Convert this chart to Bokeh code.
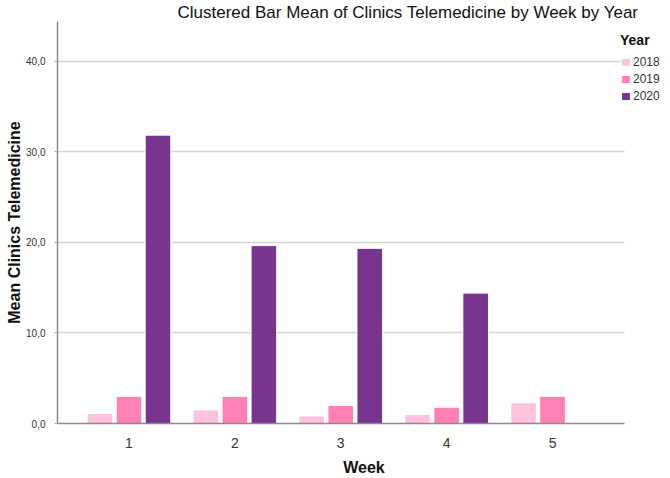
from bokeh.plotting import figure
from bokeh.models import (ColumnDataSource, FixedTicker, Legend, LegendItem, Range1d)
from bokeh.transform import dodge
from bokeh.embed import file_html
from bokeh.resources import INLINE

# ---- data ----
weeks = [1, 2, 3, 4, 5]
years = ["2018", "2019", "2020"]
mean_2018 = [1.1, 1.5, 0.85, 1.0, 2.3]
mean_2019 = [3.0, 3.0, 2.0, 1.8, 3.0]
mean_2020 = [31.85, 19.65, 19.35, 14.4, None]
y_ticks = [0, 10, 20, 30, 40]
y_tick_labels = ["0,0", "10,0", "20,0", "30,0", "40,0"]
x_tick_labels = ["1", "2", "3", "4", "5"]
colors = ["#FFC3DF", "#FF80B2", "#773590"]
title_text = "Clustered Bar Mean of Clinics Telemedicine by Week by Year"
x_title = "Week"
y_title = "Mean Clinics Telemedicine"
legend_title = "Year"

FONT = "Liberation Sans"
X_LO, X_HI = 0.325, 5.68          # visible extent of the x axis
X_FRAME_HI = 6.114                # frame extends under the legend

p = figure(width=670, height=478, output_backend="svg", toolbar_location=None,
           x_range=Range1d(X_LO, X_FRAME_HI), y_range=Range1d(0, 44.4),
           min_border_left=57, min_border_right=0, min_border_top=20,
           min_border_bottom=55)
p.outline_line_color = None
p.background_fill_color = "white"
p.border_fill_color = "white"

# title
p.title.text = title_text
p.title.align = "left"
p.title.offset = 120
p.title.standoff = 0
p.title.text_font = FONT
p.title.text_font_size = "17px"
p.title.text_font_style = "normal"
p.title.text_color = "#111111"

series = [mean_2018, mean_2019, mean_2020]
offsets = [-0.274, 0.0, 0.274]
renderers = []
for yr, vals, off, col in zip(years, series, offsets, colors):
    xs = [w for w, v in zip(weeks, vals) if v is not None]
    ys = [v for v in vals if v is not None]
    src = ColumnDataSource(dict(week=xs, val=ys))
    r = p.vbar(x=dodge("week", off), top="val", bottom=0, width=0.242, source=src,
               fill_color=col, line_color="white", line_width=1)
    renderers.append(r)

# x axis
p.xaxis.bounds = (X_LO, X_HI)
p.xaxis.ticker = FixedTicker(ticks=weeks)
p.xaxis.major_label_overrides = {w: t for w, t in zip(weeks, x_tick_labels)}
p.xaxis.major_tick_line_color = None
p.xaxis.minor_tick_line_color = None
p.xaxis.major_label_standoff = 8
p.xaxis.major_label_text_font = FONT
p.xaxis.major_label_text_font_size = "14px"
p.xaxis.major_label_text_color = "#333333"
p.xaxis.axis_line_color = "#8a8a8a"
p.xaxis.axis_line_width = 1.5
p.xaxis.axis_label = x_title
p.xaxis.axis_label_standoff = 8
p.xaxis.axis_label_text_font = FONT
p.xaxis.axis_label_text_font_size = "16px"
p.xaxis.axis_label_text_font_style = "bold"
p.xaxis.axis_label_text_color = "#111111"

# y axis
p.yaxis.ticker = FixedTicker(ticks=y_ticks)
p.yaxis.major_label_overrides = {t: s for t, s in zip(y_ticks, y_tick_labels)}
p.yaxis.major_tick_out = 3
p.yaxis.major_tick_in = 0
p.yaxis.major_tick_line_color = "#aaaaaa"
p.yaxis.minor_tick_line_color = None
p.yaxis.major_label_standoff = 9
p.yaxis.major_label_text_font = FONT
p.yaxis.major_label_text_font_size = "10px"
p.yaxis.major_label_text_color = "#333333"
p.yaxis.axis_line_color = "#8a8a8a"
p.yaxis.axis_line_width = 1.5
p.yaxis.axis_label = y_title
p.yaxis.axis_label_standoff = 0
p.yaxis.axis_label_text_font = FONT
p.yaxis.axis_label_text_font_size = "16px"
p.yaxis.axis_label_text_font_style = "bold"
p.yaxis.axis_label_text_color = "#111111"

p.xgrid.visible = False
p.ygrid.ticker = FixedTicker(ticks=y_ticks[1:])
p.ygrid.grid_line_color = "#d4d4d4"
p.ygrid.grid_line_width = 1.5
try:
    p.ygrid.cross_bounds = (X_LO, X_HI)
except Exception:
    p.ygrid.visible = False
    gy = y_ticks[1:]
    p.segment(x0=[X_LO] * len(gy), x1=[X_HI] * len(gy), y0=gy, y1=gy,
              line_color="#d4d4d4", line_width=1.5, level="underlay")

legend = Legend(items=[LegendItem(label=yr, renderers=[r]) for yr, r in zip(years, renderers)],
                location=(563, 320), title=legend_title,
                title_text_font=FONT, title_text_font_size="14px", title_text_font_style="bold",
                title_text_color="#111111", title_standoff=7,
                label_text_font=FONT, label_text_font_size="12px", label_text_color="#333333",
                glyph_width=11, glyph_height=10, label_standoff=2, spacing=3, label_height=14,
                padding=0, margin=0, border_line_color=None, background_fill_alpha=0)
p.add_layout(legend, "center")

open("out.html", "w").write(file_html(p, INLINE))
